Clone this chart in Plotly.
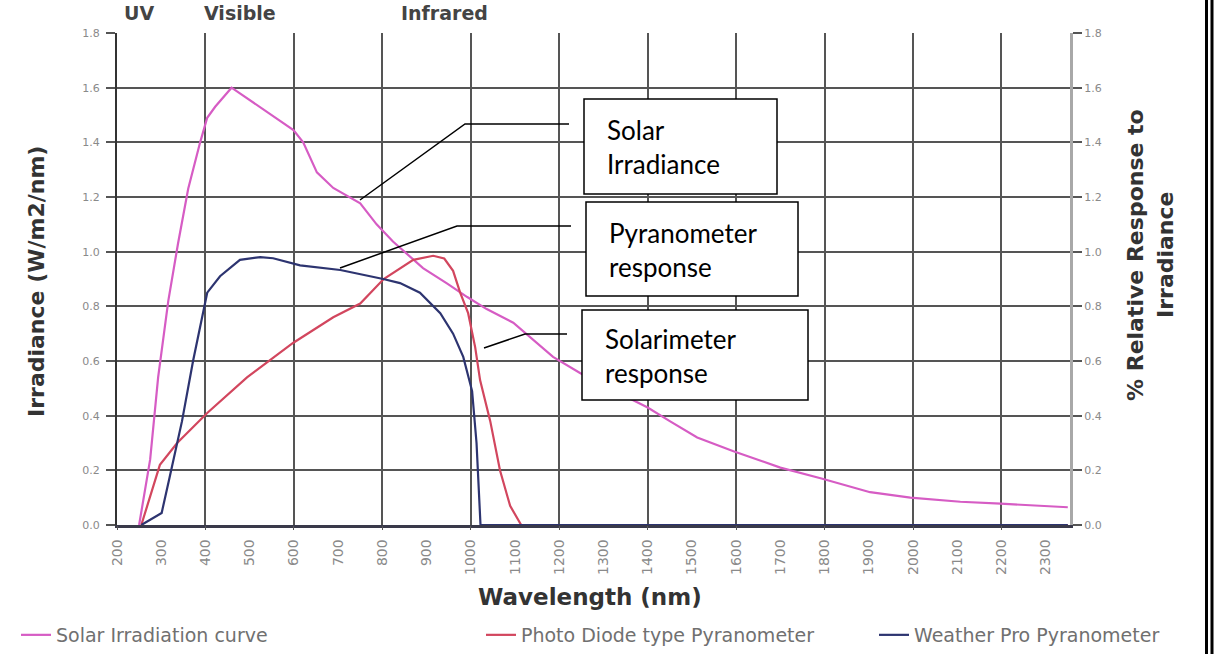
import plotly.graph_objects as go

# Solar irradiation curve (W/m2/nm)
solar_nm = [250, 275, 293, 316, 338, 361, 388, 404, 422, 459, 599, 621, 652, 689, 750,
            787, 824, 870, 892, 946, 992, 1036, 1096, 1186, 1247, 1338, 1400, 1450, 1512,
            1594, 1700, 1793, 1903, 1994, 2107, 2198, 2350]
solar_irr = [0.0, 0.24, 0.54, 0.82, 1.03, 1.23, 1.40, 1.49, 1.53, 1.60, 1.445, 1.40, 1.29,
             1.233, 1.177, 1.10, 1.037, 0.97, 0.94, 0.884, 0.834, 0.79, 0.74, 0.615, 0.556,
             0.48, 0.43, 0.38, 0.32, 0.27, 0.21, 0.17, 0.12, 0.10, 0.085, 0.078, 0.065]

# Photo diode type pyranometer, relative response
diode_nm = [255, 297, 336, 404, 494, 598, 689, 750, 803, 870, 915, 940, 960, 976, 994,
            1010, 1021, 1044, 1066, 1089, 1114, 2350]
diode_resp = [0.0, 0.22, 0.30, 0.41, 0.54, 0.666, 0.76, 0.81, 0.90, 0.97, 0.985, 0.975,
              0.93, 0.85, 0.775, 0.65, 0.53, 0.38, 0.20, 0.07, 0.0, 0.0]

# Weather Pro pyranometer, relative response
wpro_nm = [255, 301, 319, 347, 372, 404, 433, 478, 524, 553, 614, 705, 802, 840, 885,
           931, 960, 983, 1003, 1013, 1022, 2350]
wpro_resp = [0.0, 0.044, 0.175, 0.38, 0.60, 0.85, 0.91, 0.97, 0.98, 0.976, 0.95, 0.933,
             0.90, 0.885, 0.85, 0.775, 0.70, 0.615, 0.49, 0.30, 0.0, 0.0]

x_tick_vals = list(range(200, 2301, 100))
x_tick_text = [str(v) for v in x_tick_vals]
band_labels = ["UV", "Visible", "Infrared"]

# plot area in pixels (for placing callouts)
L, R, T, B = 117, 1070, 33, 525
W_PAGE, H_PAGE = 1217, 654


def px(x):
    return (x - L) / (R - L)


def py(y):
    return (B - y) / (B - T)


fig = go.Figure()
fig.add_trace(go.Scatter(x=solar_nm, y=solar_irr, mode="lines", name="Solar Irradiation curve",
                         line=dict(color="#d65cc4", width=2.2), legend="legend"))
fig.add_trace(go.Scatter(x=diode_nm, y=diode_resp, mode="lines", name="Photo Diode type Pyranometer",
                         line=dict(color="#d2465e", width=2.2), yaxis="y2", legend="legend2"))
fig.add_trace(go.Scatter(x=wpro_nm, y=wpro_resp, mode="lines", name="Weather Pro Pyranometer",
                         line=dict(color="#2d3470", width=2.2), yaxis="y2", legend="legend3"))
# invisible trace to carry the coarse vertical grid axis
fig.add_trace(go.Scatter(x=[200, 2355], y=[None, None], xaxis="x2", showlegend=False,
                         hoverinfo="skip"))

grid_col = "#555555"


def legend_at(xpix):
    return dict(orientation="h", xref="container", yref="container",
                x=xpix / W_PAGE, y=(H_PAGE - 635) / H_PAGE,
                yanchor="middle", xanchor="left",
                font=dict(family="DejaVu Sans", size=19, color="#707070"),
                bgcolor="rgba(0,0,0,0)")


fig.update_layout(
    width=W_PAGE, height=H_PAGE,
    margin=dict(l=L, r=W_PAGE - R, t=T, b=H_PAGE - B),
    paper_bgcolor="white", plot_bgcolor="white",
    font=dict(family="DejaVu Sans", color="#444"),
    xaxis=dict(range=[200, 2355], tickvals=x_tick_vals, ticktext=x_tick_text,
               tickangle=-90, showgrid=False, zeroline=False,
               tickfont=dict(size=14, color="#8a8a8a"), ticks="", ticklabelstandoff=6,
               showline=True, linecolor="#3a3a4a", linewidth=2.5),
    xaxis2=dict(range=[200, 2355], overlaying="x", dtick=200, tick0=200, showgrid=True,
                gridcolor=grid_col, gridwidth=1.8, showticklabels=False, zeroline=False,
                ticks="outside", ticklen=4, tickcolor=grid_col, side="bottom"),
    yaxis=dict(range=[0, 1.8], dtick=0.2, tickformat=".1f", showgrid=True,
               gridcolor=grid_col, gridwidth=1.8, zeroline=False,
               ticks="outside", ticklen=9, tickcolor=grid_col, tickwidth=1.8,
               showline=True, linecolor="#333", linewidth=2,
               tickfont=dict(size=11, color="#8a8a8a"), ticklabelstandoff=4),
    yaxis2=dict(range=[0, 1.8], dtick=0.2, tickformat=".1f", overlaying="y", side="right",
                showgrid=False, zeroline=False, ticks="outside", ticklen=9,
                tickcolor=grid_col, tickwidth=1.8,
                showline=True, linecolor="#a8a8a8", linewidth=3,
                tickfont=dict(size=11, color="#8a8a8a")),
    legend=legend_at(16),
    legend2=legend_at(481),
    legend3=legend_at(874),
    showlegend=True,
)

ann = []
# axis titles
ann.append(dict(text="<b>Irradiance (W/m2/nm)</b>", x=px(36), y=py(282), xref="paper",
                yref="paper", textangle=-90, showarrow=False,
                font=dict(family="DejaVu Sans", size=22, color="#333"),
                xanchor="center", yanchor="middle"))
ann.append(dict(text="<b>% Relative Response to</b>", x=px(1136), y=py(255), xref="paper",
                yref="paper", textangle=-90, showarrow=False,
                font=dict(family="DejaVu Sans", size=22, color="#333"),
                xanchor="center", yanchor="middle"))
ann.append(dict(text="<b>Irradiance</b>", x=px(1166), y=py(255), xref="paper",
                yref="paper", textangle=-90, showarrow=False,
                font=dict(family="DejaVu Sans", size=22, color="#333"),
                xanchor="center", yanchor="middle"))
ann.append(dict(text="<b>Wavelength (nm)</b>", x=px(590), y=py(597), xref="paper",
                yref="paper", showarrow=False,
                font=dict(family="DejaVu Sans", size=23, color="#333"),
                xanchor="center", yanchor="middle"))
# spectral band labels above the plot
for label, xl in zip(band_labels, [122, 202, 399]):
    ann.append(dict(text="<b>" + label + "</b>", x=px(xl), y=py(13), xref="paper",
                    yref="paper", showarrow=False,
                    font=dict(family="DejaVu Sans", size=19, color="#444"),
                    xanchor="left", yanchor="middle"))

# callout boxes with leader lines
callouts = [
    ("Solar<br>Irradiance", (584, 99, 777, 194), (605, 147),
     [(360, 200), (465, 124), (569, 124)]),
    ("Pyranometer<br>response", (586, 202, 798, 296), (607, 250),
     [(340, 268), (457, 226), (571, 226)]),
    ("Solarimeter<br>response", (582, 310, 808, 400), (603, 356),
     [(484, 348), (525, 334), (567, 334)]),
]
shapes = []
for text, (x0, y0, x1, y1), (tx, ty), pts in callouts:
    shapes.append(dict(type="rect", xref="paper", yref="paper",
                       x0=px(x0), x1=px(x1), y0=py(y1), y1=py(y0),
                       line=dict(color="black", width=1.5), fillcolor="white"))
    ann.append(dict(text=text, x=px(tx), y=py(ty), xref="paper", yref="paper",
                    showarrow=False, align="left", xanchor="left", yanchor="middle",
                    font=dict(family="Lato", size=26, color="black")))
    path = "M {} {}".format(px(pts[0][0]), py(pts[0][1]))
    for (a, b) in pts[1:]:
        path += " L {} {}".format(px(a), py(b))
    shapes.append(dict(type="path", xref="paper", yref="paper", path=path,
                       line=dict(color="black", width=1.5)))

# double rule along the right edge of the page
for xe in (1206.5, 1212):
    shapes.append(dict(type="line", xref="paper", yref="paper",
                       x0=px(xe), x1=px(xe), y0=py(0), y1=py(H_PAGE),
                       line=dict(color="black", width=3)))

fig.update_layout(annotations=ann, shapes=shapes)
fig.write_html("out.html")
